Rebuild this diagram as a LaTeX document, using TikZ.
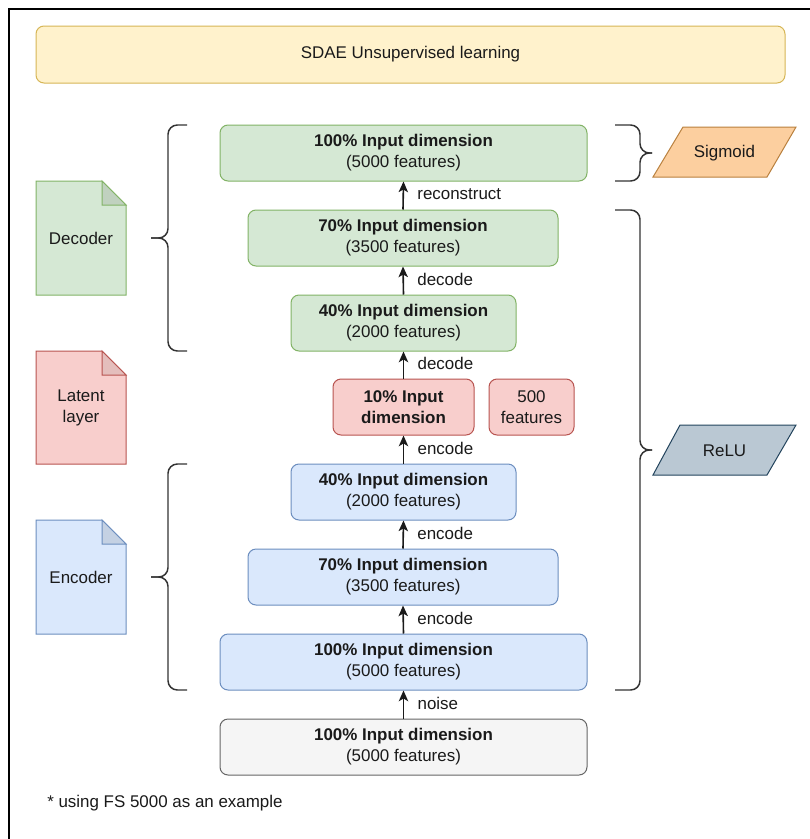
\documentclass[tikz,border=0pt]{standalone}
\usepackage{fontspec}
\setmainfont{Liberation Sans}
\usetikzlibrary{arrows.meta}

\definecolor{grnF}{HTML}{D5E8D4}\definecolor{grnS}{HTML}{82B366}
\definecolor{redF}{HTML}{F8CECC}\definecolor{redS}{HTML}{B85450}
\definecolor{bluF}{HTML}{DAE8FC}\definecolor{bluS}{HTML}{6C8EBF}
\definecolor{gryF}{HTML}{F5F5F5}\definecolor{gryS}{HTML}{666666}
\definecolor{ylwF}{HTML}{FFF2CC}\definecolor{ylwS}{HTML}{D6B656}
\definecolor{orgF}{HTML}{FCCF9F}\definecolor{orgS}{HTML}{B9803E}
\definecolor{slaF}{HTML}{BAC8D3}\definecolor{slaS}{HTML}{23445D}
\definecolor{ink}{HTML}{1A1A1A}
\definecolor{brc}{HTML}{333333}

\tikzset{
  txt/.style={font=\fontsize{12.7}{15.75}\selectfont, text=ink, align=center},
  layer/.style={txt, draw, rounded corners=6pt, line width=0.75pt,
                minimum height=42pt, inner sep=0pt},
  green/.style={layer, fill=grnF, draw=grnS},
  red/.style={layer, fill=redF, draw=redS},
  blue/.style={layer, fill=bluF, draw=bluS},
  grey/.style={layer, fill=gryF, draw=gryS},
  arr/.style={-{Stealth[length=8pt,width=7pt,inset=2pt]}, line width=1.2pt, draw=ink},
  lbl/.style={txt, anchor=west, inner sep=0pt},
  brace/.style={draw=brc, line width=1.1pt, rounded corners=7pt},
  note/.style={line width=0.75pt},
}

\begin{document}
\begin{tikzpicture}[x=0.75pt,y=-0.75pt]
\useasboundingbox (0,0) rectangle (810,839);
\fill[white] (0,0) rectangle (810,839);

% outer frame, running off the right and bottom edges
\begin{scope}
  \clip (0,0) rectangle (810,839);
  \draw[black, line width=1.8pt] (9,9) rectangle (840,870);
\end{scope}

% title bar
\node[txt, draw=ylwS, fill=ylwF, rounded corners=6pt, line width=0.75pt,
      minimum width=561.75pt, minimum height=42.75pt, inner sep=0pt]
      (title) at (410.5,54.5) {SDAE Unsupervised learning};

% layer stack
\node[green, minimum width=275.25pt] (d100) at (403.5,153) {\textbf{100\% Input dimension}\\(5000 features)};
\node[green, minimum width=232.5pt]  (d70)  at (403,238)   {\textbf{70\% Input dimension}\\(3500 features)};
\node[green, minimum width=168.75pt] (d40)  at (403.5,323) {\textbf{40\% Input dimension}\\(2000 features)};
\node[red,   minimum width=105.75pt] (lat)  at (403.5,407) {\textbf{10\% Input}\\\textbf{dimension}};
\node[red,   minimum width=63.75pt]  (latn) at (531.5,407) {500\\features};
\node[blue,  minimum width=168.75pt] (e40)  at (403.5,492) {\textbf{40\% Input dimension}\\(2000 features)};
\node[blue,  minimum width=232.5pt]  (e70)  at (403,577)   {\textbf{70\% Input dimension}\\(3500 features)};
\node[blue,  minimum width=275.25pt] (e100) at (403.5,662) {\textbf{100\% Input dimension}\\(5000 features)};
\node[grey,  minimum width=275.25pt] (inp)  at (403.5,747) {\textbf{100\% Input dimension}\\(5000 features)};

% connectors
\draw[arr] (inp.north)  -- node[lbl, xshift=10pt, yshift=1pt] (l1) {noise}       (e100.south);
\draw[arr] (e100.north) -- node[lbl, xshift=10pt, yshift=1pt] (l2) {encode}      (e70.south);
\draw[arr] (e70.north)  -- node[lbl, xshift=10pt, yshift=1pt] (l3) {encode}      (e40.south);
\draw[arr] (e40.north)  -- node[lbl, xshift=10pt, yshift=1pt] (l4) {encode}      (lat.south);
\draw[arr] (lat.north)  -- node[lbl, xshift=10pt, yshift=1pt] (l5) {decode}      (d40.south);
\draw[arr] (d40.north)  -- node[lbl, xshift=10pt, yshift=1pt] (l6) {decode}      (d70.south);
\draw[arr] (d70.north)  -- node[lbl, xshift=10pt, yshift=1pt] (l7) {reconstruct} (d100.south);

% folded-corner notes on the left
\filldraw[note, fill=grnF, draw=grnS] (36,181) -- (102,181) -- (126,205) -- (126,295) -- (36,295) -- cycle;
\filldraw[note, fill=black!10!grnF, draw=grnS] (102,181) -- (102,205) -- (126,205) -- cycle;
\node[txt] (ndec) at (81,238) {Decoder};

\filldraw[note, fill=redF, draw=redS] (36,351) -- (102,351) -- (126,375) -- (126,464) -- (36,464) -- cycle;
\filldraw[note, fill=black!8!redF, draw=redS] (102,351) -- (102,375) -- (126,375) -- cycle;
\node[txt] (nlat) at (81,407.5) {Latent\\layer};

\filldraw[note, fill=bluF, draw=bluS] (36,520) -- (102,520) -- (126,544) -- (126,634) -- (36,634) -- cycle;
\filldraw[note, fill=black!10!bluF, draw=bluS] (102,520) -- (102,544) -- (126,544) -- cycle;
\node[txt] (nenc) at (81,577) {Encoder};

% left braces
\draw[brace] (187,125) -- (168,125) -- (168,238) -- (151,238);
\draw[brace] (187,351) -- (168,351) -- (168,238) -- (151,238);
\draw[brace] (187,464) -- (168,464) -- (168,577) -- (151,577);
\draw[brace] (187,690) -- (168,690) -- (168,577) -- (151,577);

% right braces
\draw[brace] (615,125) -- (640,125) -- (640,153) -- (652,153);
\draw[brace] (615,181) -- (640,181) -- (640,153) -- (652,153);
\draw[brace] (615,210) -- (640,210) -- (640,450) -- (652,450);
\draw[brace] (615,690) -- (640,690) -- (640,450) -- (652,450);

% activation parallelograms
\filldraw[note, fill=orgF, draw=orgS] (683,127) -- (796,127) -- (767,177) -- (653,177) -- cycle;
\node[txt] (sig) at (724.5,153) {Sigmoid};
\filldraw[note, fill=slaF, draw=slaS] (680,425) -- (796,425) -- (767,475) -- (653,475) -- cycle;
\node[txt] (relu) at (724.5,451) {ReLU};

% footnote
\node[txt, anchor=west, inner sep=0pt] (foot) at (47,803) {* using FS 5000 as an example};
\end{tikzpicture}
\end{document}
